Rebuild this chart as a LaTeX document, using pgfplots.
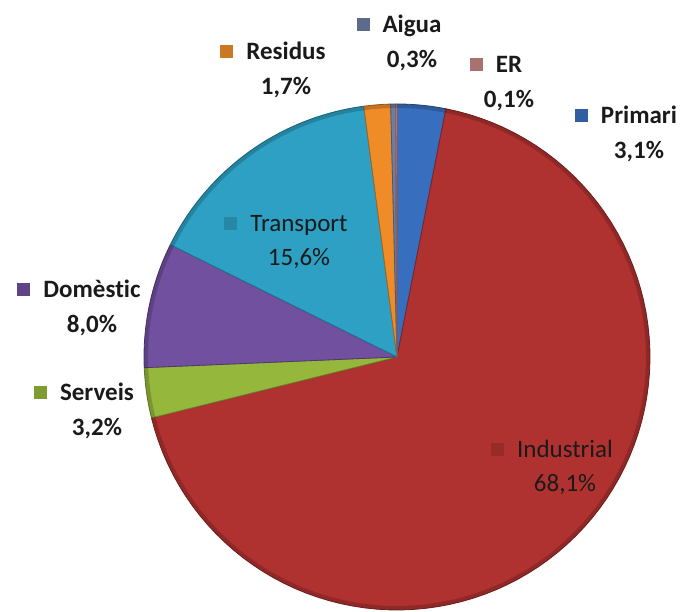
\documentclass[border=0pt]{standalone}
\usepackage{pgfplots}
\usepackage{pgfplotstable}
\pgfplotsset{compat=1.18}
\usepackage{fontspec}
\setmainfont{Carlito}[Ligatures=NoCommon]
\definecolor{cPri}{HTML}{376EBE}
\definecolor{cInd}{HTML}{B03230}
\definecolor{cSer}{HTML}{95B83C}
\definecolor{cDom}{HTML}{7150A0}
\definecolor{cTra}{HTML}{2DA0C3}
\definecolor{cRes}{HTML}{F08C28}
\definecolor{cAig}{HTML}{6C7EA2}
\definecolor{cER}{HTML}{C88585}
\definecolor{labtxt}{HTML}{1A1A1A}
\tikzset{
  lab/.style={align=center, text=labtxt, font=\fontsize{25}{34}\selectfont},
  labb/.style={align=center, text=labtxt, font=\fontsize{25}{35}\selectfont\bfseries}}
\pgfplotstableread{
name value col
Primari 3.1 cPri
Industrial 68.1 cInd
Serveis 3.2 cSer
Domestic 8.0 cDom
Transport 15.6 cTra
Residus 1.7 cRes
Aigua 0.3 cAig
ER 0.1 cER
}\piedata
\newcommand\mk[1]{\llap{\raisebox{1.5pt}{\textcolor{#1!85!black}{\rule{13pt}{13pt}}}\hspace{13pt}}}
\begin{document}
\begin{tikzpicture}
\begin{axis}[hide axis, scale only axis, width=681pt, height=612pt,
  xmin=0, xmax=681, ymin=0, ymax=612, clip=false]
\addplot[draw=none, forget plot] coordinates {(0,0) (681,612)};
\def\cum{0}
\pgfplotsforeachungrouped \i in {0,...,7}{%
  \pgfplotstablegetelem{\i}{value}\of\piedata \let\val\pgfplotsretval
  \pgfplotstablegetelem{\i}{col}\of\piedata \let\col\pgfplotsretval
  \pgfmathsetmacro{\aS}{90-\cum*3.596404}%
  \pgfmathsetmacro{\cum}{\cum+\val}%
  \pgfmathsetmacro{\aE}{90-\cum*3.596404}%
  \edef\temp{\noexpand\addplot[fill=\col, draw=\col!70!black, line width=0.8pt, line join=round, domain=\aE:\aS, samples=90, forget plot] ({397+253*cos(x)},{255+253*sin(x)}) -- (axis cs:397,255) -- cycle;}%
  \temp
}
\addplot[draw=black, opacity=0.18, line width=4pt, domain=-180:180, samples=180, forget plot] ({397+251*cos(x)},{255+251*sin(x)});
\node[labb] at (axis cs:639,478) {\mk{cPri}Primari\\3,1\%};
\node[labb] at (axis cs:412,569.5) {\mk{cAig}Aigua\\0,3\%};
\node[labb] at (axis cs:509,528.5) {\mk{cER}ER\\0,1\%};
\node[labb] at (axis cs:286,542.5) {\mk{cRes}Residus\\1,7\%};
\node[lab] at (axis cs:299,369.5) {\mk{cTra}Transport\\15,6\%};
\node[labb] at (axis cs:92,304.5) {\mk{cDom}Domèstic\\8,0\%};
\node[labb] at (axis cs:97,201) {\mk{cSer}Serveis\\3,2\%};
\node[lab] at (axis cs:565,144.5) {\mk{cInd}Industrial\\68,1\%};
\end{axis}
\end{tikzpicture}
\end{document}
